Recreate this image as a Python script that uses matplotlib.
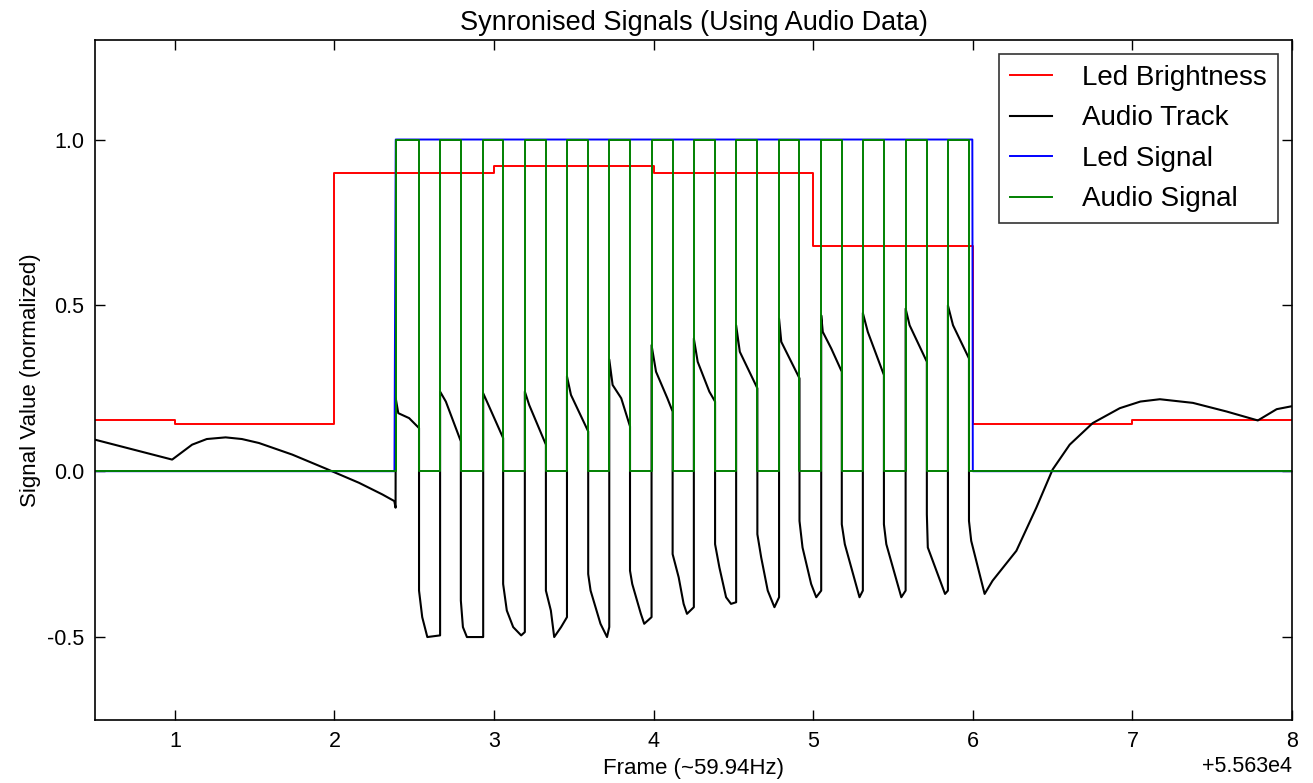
import numpy as np
import matplotlib
matplotlib.use("Agg")
import matplotlib.pyplot as plt
from matplotlib.ticker import MultipleLocator, ScalarFormatter

# ---------------- data (frames relative to 55630) ----------------
FRAME_OFFSET = 55630

# per-frame led brightness (held until next frame)
led_frames = [0.5, 1, 2, 3, 4, 5, 6, 7, 8]
led_brightness = [0.155, 0.143, 0.900, 0.920, 0.900, 0.680, 0.142, 0.155, 0.155]

# led on/off signal
led_sig_x = [0.5, 2.376, 2.384, 5.997, 6.000, 8.0]
led_sig_y = [0.0, 0.0, 1.0, 1.0, 0.0, 0.0]

# audio square signal edges
pulse_rise = [2.384, 2.662, 2.932, 3.193, 3.457, 3.722, 3.987,
              4.252, 4.517, 4.786, 5.050, 5.311, 5.579, 5.844]
pulse_fall = [2.530, 2.792, 3.057, 3.325, 3.590, 3.852, 4.119,
              4.385, 4.650, 4.914, 5.179, 5.443, 5.712, 5.976]

# audio track vertices
audio_x = [
    0.500, 0.983, 1.108, 1.200, 1.318, 1.420, 1.527, 1.736, 1.945, 2.154, 2.300, 2.375, 2.383,
    2.384, 2.400, 2.468, 2.530, 2.530, 2.550, 2.582, 2.662,
    2.662, 2.698, 2.792, 2.792, 2.805, 2.830, 2.932,
    2.932, 2.960, 3.057, 3.057, 3.080, 3.120, 3.170, 3.193,
    3.193, 3.220, 3.325, 3.325, 3.356, 3.377, 3.420, 3.457,
    3.457, 3.482, 3.590, 3.590, 3.605, 3.667, 3.708, 3.722,
    3.722, 3.743, 3.797, 3.852, 3.852, 3.866, 3.920, 3.941, 3.987,
    3.987, 4.015, 4.086, 4.119, 4.119, 4.157, 4.188, 4.209, 4.252,
    4.252, 4.276, 4.349, 4.385, 4.385, 4.412, 4.454, 4.485, 4.517,
    4.517, 4.540, 4.650, 4.650, 4.674, 4.715, 4.757, 4.786,
    4.786, 4.800, 4.914, 4.914, 4.933, 4.987, 5.019, 5.050,
    5.050, 5.060, 5.113, 5.179, 5.179, 5.198, 5.290, 5.311,
    5.311, 5.342, 5.443, 5.443, 5.458, 5.552, 5.579,
    5.579, 5.604, 5.712, 5.712, 5.718, 5.826, 5.844,
    5.844, 5.876, 5.976, 5.976, 5.990, 6.074,
    6.124, 6.273, 6.340, 6.398, 6.500, 6.607, 6.751, 6.921, 7.050, 7.172, 7.379, 7.590, 7.786, 7.904, 8.000,
]
audio_y = [
    0.095, 0.035, 0.080, 0.097, 0.102, 0.097, 0.085, 0.050, 0.008, -0.035, -0.070, -0.090, -0.110,
    0.220, 0.175, 0.160, 0.130, -0.360, -0.440, -0.500, -0.495,
    0.240, 0.210, 0.090, -0.390, -0.470, -0.500, -0.500,
    0.235, 0.205, 0.100, -0.340, -0.420, -0.470, -0.495, -0.485,
    0.240, 0.200, 0.080, -0.360, -0.420, -0.500, -0.470, -0.440,
    0.286, 0.230, 0.120, -0.310, -0.360, -0.460, -0.500, -0.470,
    0.337, 0.260, 0.220, 0.135, -0.300, -0.340, -0.430, -0.460, -0.440,
    0.380, 0.300, 0.220, 0.180, -0.250, -0.320, -0.400, -0.430, -0.410,
    0.400, 0.330, 0.240, 0.210, -0.220, -0.290, -0.380, -0.400, -0.395,
    0.440, 0.360, 0.250, -0.190, -0.260, -0.360, -0.410, -0.380,
    0.460, 0.390, 0.280, -0.150, -0.230, -0.340, -0.380, -0.360,
    0.470, 0.420, 0.370, 0.300, -0.160, -0.220, -0.380, -0.360,
    0.477, 0.420, 0.290, -0.160, -0.220, -0.380, -0.360,
    0.490, 0.440, 0.330, -0.130, -0.230, -0.370, -0.360,
    0.500, 0.440, 0.340, -0.150, -0.210, -0.370,
    -0.330, -0.240, -0.170, -0.110, 0.005, 0.080, 0.145, 0.190, 0.210, 0.217, 0.206, 0.180, 0.153, 0.187, 0.196,
]

# ---------------- build square wave from edges ----------------
sig_x = [0.5]
sig_y = [0.0]
for r, f in zip(pulse_rise, pulse_fall):
    sig_x += [r, r, f, f]
    sig_y += [0.0, 1.0, 1.0, 0.0]
sig_x.append(8.0)
sig_y.append(0.0)

off = FRAME_OFFSET
plt.rcParams['font.family'] = ['Liberation Sans', 'DejaVu Sans']
plt.rcParams['axes.unicode_minus'] = False

fig = plt.figure(figsize=(13.13, 7.83), dpi=100)
ax = fig.add_axes([0.0724, 0.0805, 0.9116, 0.8684])

ax.plot(np.array(led_frames) + off, led_brightness, color='#ff0000', lw=1.4,
        drawstyle='steps-post', label='Led Brightness')
ax.plot(np.array(audio_x) + off, audio_y, color='black', lw=1.5, label='Audio Track')
ax.plot(np.array(led_sig_x) + off, led_sig_y, color='#0000ff', lw=1.4, label='Led Signal')
ax.plot(np.array(sig_x) + off, sig_y, color='#008000', lw=1.4, label='Audio Signal')

ax.set_xlim(off + 0.5, off + 8)
ax.set_ylim(-0.75, 1.3)
ax.xaxis.set_major_locator(MultipleLocator(1))
ax.yaxis.set_major_locator(MultipleLocator(0.5))
ax.xaxis.set_major_formatter(ScalarFormatter(useOffset=off))
ax.tick_params(direction='in', length=7, width=1, top=True, right=True,
               labelsize=15.5, pad=8)
ax.xaxis.get_offset_text().set_fontsize(15.5)
for sp in ax.spines.values():
    sp.set_linewidth(1.2)

ax.set_title('Synronised Signals (Using Audio Data)', fontsize=19.5, pad=7)
ax.set_xlabel('Frame (~59.94Hz)', fontsize=16)
ax.set_ylabel('Signal Value (normalized)', fontsize=16)

leg = ax.legend(loc='upper right', fontsize=20, fancybox=False, frameon=True,
                handlelength=1.5, handletextpad=1.1, labelspacing=0.52,
                borderpad=0.4, borderaxespad=0.5)
leg.get_frame().set_edgecolor('black')
leg.get_frame().set_linewidth(1.2)

plt.savefig('out.png', dpi=100)
plt.close()
